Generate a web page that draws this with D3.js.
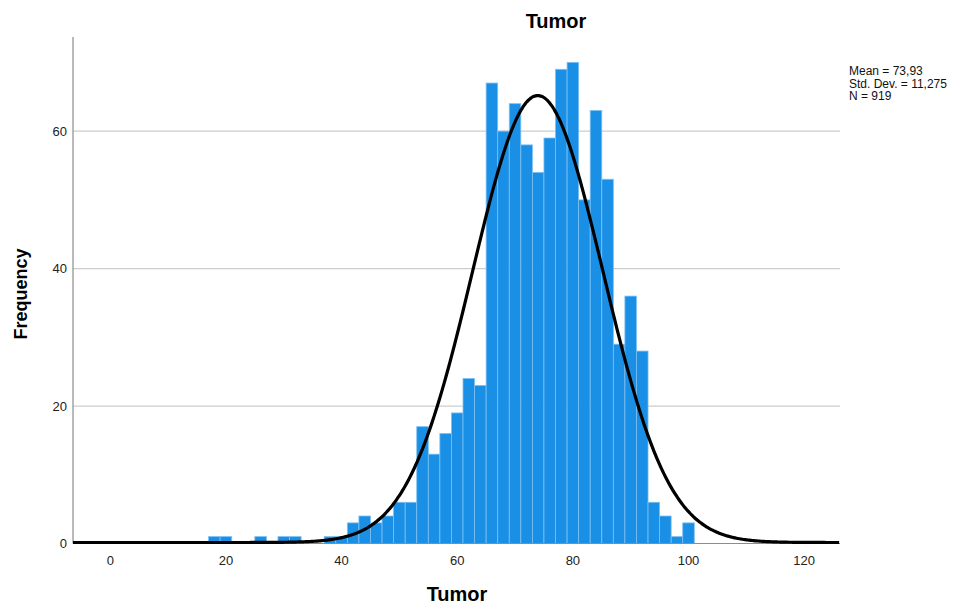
<!DOCTYPE html>
<html>
<head>
<meta charset="utf-8">
<script src="https://cdn.jsdelivr.net/npm/d3@7"></script>
<style>
  body { margin: 0; background: #fff; }
  text { font-family: "Liberation Sans", Arial, sans-serif; }
</style>
</head>
<body>
<svg></svg>
<script>
//chart size
const width = 969;
const height = 606;

//histogram data: bins are 2 wide, each bin starts at binStarts[i]
const binStarts = [17, 19, 25, 29, 31, 37, 39, 41, 43, 45, 47, 49, 51, 53, 55, 57, 59, 61, 63,
  65, 67, 69, 71, 73, 75, 77, 79, 81, 83, 85, 87, 89, 91, 93, 95, 97, 99];
const counts = [1, 1, 1, 1, 1, 1, 1, 3, 4, 3, 4, 6, 6, 17, 13, 16, 19, 24, 23,
  67, 60, 64, 58, 54, 59, 69, 70, 50, 63, 53, 29, 36, 28, 6, 4, 1, 3];
const binWidth = 2;

//summary stats
const mean = 73.93;
const sd = 11.275;
const n = 919;
const statLines = ["Mean = 73,93", "Std. Dev. = 11,275", "N = 919"];

//ticks
const xTicks = [0, 20, 40, 60, 80, 100, 120];
const yTicks = [0, 20, 40, 60];

const svg = d3.select("svg")
  .attr("width", width)
  .attr("height", height);

//plot area
const plotLeft = 73, plotRight = 840, plotTop = 37, plotBottom = 543.5;

const x = d3.scaleLinear()
  .domain([-6.45, 126.2])
  .range([plotLeft, plotRight]);

const y = d3.scaleLinear()
  .domain([0, 73.7])
  .range([plotBottom, plotTop]);

//gridlines
svg.selectAll("line.grid")
  .data(yTicks.filter(d => d > 0))
  .enter().append("line")
  .attr("x1", plotLeft)
  .attr("x2", plotRight)
  .attr("y1", d => y(d))
  .attr("y2", d => y(d))
  .attr("stroke", "#cdcdcd")
  .attr("stroke-width", 1.2);

//bars
const bins = binStarts.map((s, i) => ({ x0: s, x1: s + binWidth, count: counts[i] }));
svg.selectAll("rect.bar")
  .data(bins)
  .enter().append("rect")
  .attr("x", d => x(d.x0))
  .attr("width", d => x(d.x1) - x(d.x0))
  .attr("y", d => y(d.count))
  .attr("height", d => y(0) - y(d.count))
  .attr("fill", "#1a8fe6")
  .attr("stroke", "#7cc0f2")
  .attr("stroke-width", 0.8);

//axis lines
svg.append("line")
  .attr("x1", plotLeft).attr("x2", plotLeft)
  .attr("y1", plotTop).attr("y2", plotBottom)
  .attr("stroke", "#8c8c8c")
  .attr("stroke-width", 1.2);
svg.append("line")
  .attr("x1", plotLeft).attr("x2", plotRight)
  .attr("y1", plotBottom).attr("y2", plotBottom)
  .attr("stroke", "#8c8c8c")
  .attr("stroke-width", 1.2);

//normal curve scaled to counts
const normal = v => n * binWidth * Math.exp(-0.5 * ((v - mean) / sd) ** 2) / (sd * Math.sqrt(2 * Math.PI));
const curveX = d3.range(-6.45, 126.2, 0.25);
const line = d3.line()
  .x(d => x(d))
  .y(d => y(normal(d)) - 1)
  .curve(d3.curveBasis);
svg.append("path")
  .datum(curveX)
  .attr("d", line)
  .attr("fill", "none")
  .attr("stroke", "#000")
  .attr("stroke-width", 3.2);

//tick labels
svg.selectAll("text.xtick")
  .data(xTicks)
  .enter().append("text")
  .attr("x", d => x(d))
  .attr("y", 565)
  .attr("text-anchor", "middle")
  .attr("font-size", 13)
  .attr("fill", "#222")
  .text(d => d);

svg.selectAll("text.ytick")
  .data(yTicks)
  .enter().append("text")
  .attr("x", 67)
  .attr("y", d => y(d) + 4.5)
  .attr("text-anchor", "end")
  .attr("font-size", 13)
  .attr("fill", "#222")
  .text(d => d);

//titles
svg.append("text")
  .attr("x", 556)
  .attr("y", 28)
  .attr("text-anchor", "middle")
  .attr("font-size", 20)
  .attr("font-weight", "bold")
  .text("Tumor");

svg.append("text")
  .attr("x", 457)
  .attr("y", 601)
  .attr("text-anchor", "middle")
  .attr("font-size", 20)
  .attr("font-weight", "bold")
  .text("Tumor");

svg.append("text")
  .attr("transform", "translate(27,294) rotate(-90)")
  .attr("text-anchor", "middle")
  .attr("font-size", 18)
  .attr("font-weight", "bold")
  .text("Frequency");

//stats box
svg.selectAll("text.stat")
  .data(statLines)
  .enter().append("text")
  .attr("x", 849)
  .attr("y", (d, i) => 75 + i * 12.5)
  .attr("font-size", 12)
  .attr("fill", "#111")
  .text(d => d);
</script>
</body>
</html>
